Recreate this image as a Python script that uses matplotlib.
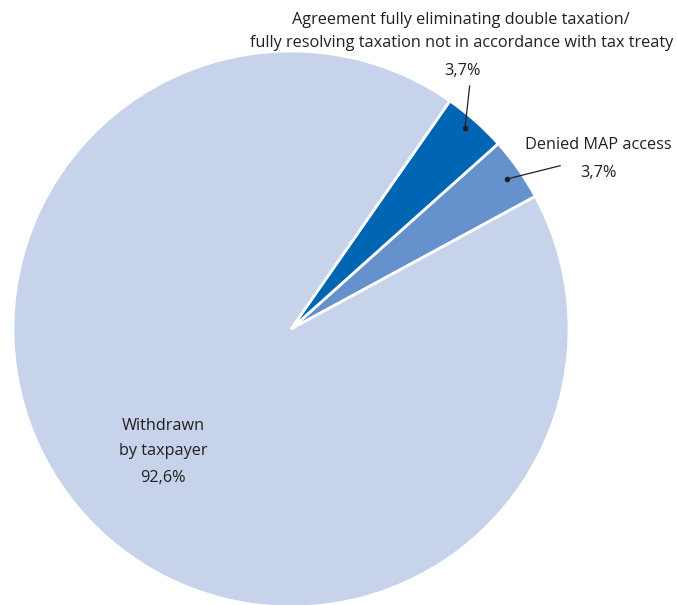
import matplotlib.pyplot as plt

# Données du graphique
categories = ["Denied MAP access",
              "Agreement fully eliminating double taxation/\nfully resolving taxation not in accordance with tax treaty",
              "Withdrawn by taxpayer"]
values = [3.7, 3.7, 92.6]
value_labels = ["3,7%", "3,7%", "92,6%"]
colors = ["#6592CC", "#0066B3", "#C7D3EA"]

W, H = 677, 605
CX, CY, R = 291, 329, 278


def px(x, y):
    # pixels -> coordonnées des données (rayon = 1)
    return (x - CX) / R, (CY - y) / R


plt.rcParams['font.family'] = ['Open Sans', 'DejaVu Sans']
fig = plt.figure(figsize=(W / 100, H / 100), dpi=100)
ax = fig.add_axes([0, 0, 1, 1])
ax.pie(values, colors=colors, startangle=28.5, counterclock=True, radius=1,
       wedgeprops=dict(edgecolor='white', linewidth=2))
ax.set_xlim(px(0, 0)[0], px(W, 0)[0])
ax.set_ylim(px(0, H)[1], px(0, 0)[1])
ax.set_aspect('auto')
ax.axis('off')

tc = '#231F20'
fs = 11.7
# Agreement
line1, line2 = categories[1].split("\n")
ax.text(*px(461, 20), line1, ha='center', va='center', fontsize=fs, color=tc)
ax.text(*px(462, 43), line2, ha='center', va='center', fontsize=fs, color=tc)
ax.text(*px(462, 71), value_labels[1], ha='center', va='center', fontsize=fs, color=tc)
ax.annotate('', xy=px(465, 128), xytext=px(470, 83),
            arrowprops=dict(arrowstyle='-', color=tc, lw=0.9))
ax.plot(*px(465, 128), 'o', ms=3, color=tc)

# Denied
ax.text(*px(598, 145), categories[0], ha='center', va='center', fontsize=fs, color=tc)
ax.text(*px(598, 173), value_labels[0], ha='center', va='center', fontsize=fs, color=tc)
ax.annotate('', xy=px(507, 179), xytext=px(563, 165),
            arrowprops=dict(arrowstyle='-', color=tc, lw=0.9))
ax.plot(*px(507, 179), 'o', ms=3, color=tc)

# Withdrawn
ax.text(*px(163, 426), "Withdrawn", ha='center', va='center', fontsize=fs, color=tc)
ax.text(*px(163, 451), "by taxpayer", ha='center', va='center', fontsize=fs, color=tc)
ax.text(*px(163, 478), value_labels[2], ha='center', va='center', fontsize=fs, color=tc)

fig.savefig("out.png", dpi=100)
